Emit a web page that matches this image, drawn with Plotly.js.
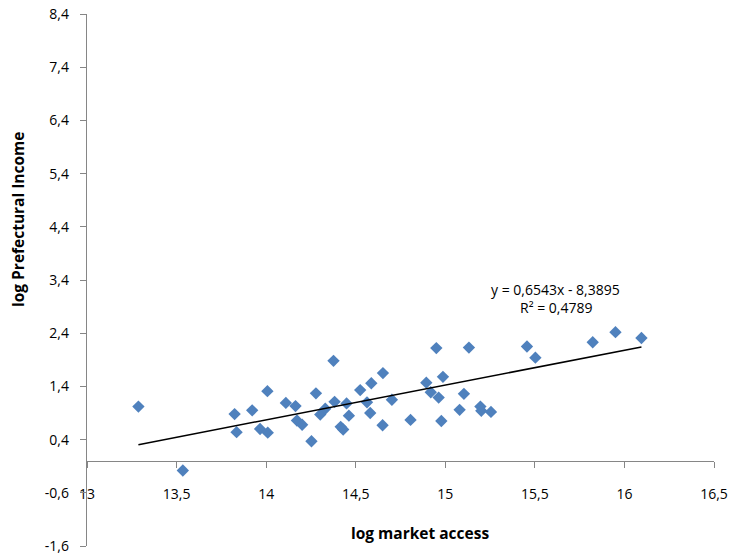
<!DOCTYPE html>
<html>
<head>
<meta charset="utf-8">
<script src="https://cdn.plot.ly/plotly-3.0.1.min.js"></script>
<style>html,body{margin:0;padding:0;background:#fff;}#chart{width:740px;height:559px;}</style>
</head>
<body>
<div id="chart"></div>
<script>
// log market access (x) and log prefectural income (y)
const marketAccess = [13.287, 13.535, 13.824, 13.835, 13.922, 13.966, 14.007, 14.009, 14.110, 14.164,
  14.172, 14.201, 14.253, 14.278, 14.302, 14.330, 14.376, 14.382, 14.416, 14.430,
  14.449, 14.462, 14.525, 14.563, 14.581, 14.587, 14.650, 14.652, 14.702, 14.806,
  14.894, 14.919, 14.950, 14.963, 14.987, 14.978, 15.080, 15.104, 15.132, 15.196,
  15.201, 15.255, 15.456, 15.503, 15.823, 15.950, 16.095];
const prefIncome = [1.02, -0.18, 0.88, 0.54, 0.95, 0.60, 1.31, 0.53, 1.09, 1.03,
  0.76, 0.68, 0.37, 1.27, 0.87, 0.98, 1.88, 1.11, 0.64, 0.59,
  1.08, 0.85, 1.33, 1.10, 0.90, 1.46, 0.67, 1.65, 1.15, 0.77,
  1.47, 1.29, 2.12, 1.19, 1.58, 0.75, 0.96, 1.26, 2.13, 1.02,
  0.94, 0.92, 2.15, 1.94, 2.23, 2.42, 2.31];

// linear trendline as printed on the chart
const trendSlope = 0.6543;
const trendIntercept = -8.3895;
const trendLabel = "y = 0,6543x - 8,3895";
const r2Label = "R² = 0,4789";

// axis ticks
const xTickVals = [13, 13.5, 14, 14.5, 15, 15.5, 16, 16.5];
const xTickText = ["13", "13,5", "14", "14,5", "15", "15,5", "16", "16,5"];
const yTickVals = [-1.6, -0.6, 0.4, 1.4, 2.4, 3.4, 4.4, 5.4, 6.4, 7.4, 8.4];
const yTickText = ["-1,6", "-0,6", "0,4", "1,4", "2,4", "3,4", "4,4", "5,4", "6,4", "7,4", "8,4"];

const xTitle = "log market access";
const yTitle = "log Prefectural Income";

const xMin = Math.min(...marketAccess);
const xMax = Math.max(...marketAccess);
const trendX = [xMin, xMax];
const trendY = trendX.map(v => trendSlope * v + trendIntercept);

const FONT = "Open Sans, sans-serif";
const AXIS_GREY = "#868686";

const traces = [
  {
    type: "scatter", mode: "markers",
    x: marketAccess, y: prefIncome,
    marker: {symbol: "diamond", size: 9.5, color: "#4F81BD", line: {width: 0}},
    hoverinfo: "x+y", showlegend: false
  },
  {
    type: "scatter", mode: "lines",
    x: trendX, y: trendY,
    line: {color: "#000000", width: 1.5},
    hoverinfo: "skip", showlegend: false
  }
];

const layout = {
  width: 740, height: 559,
  margin: {l: 87, r: 26, t: 14, b: 13, pad: 0},
  paper_bgcolor: "#ffffff", plot_bgcolor: "#ffffff",
  font: {family: FONT, size: 13.5, color: "#000000"},
  showlegend: false,
  xaxis: {
    range: [13, 16.5],
    anchor: "free", position: 0.16,
    tickmode: "array", tickvals: xTickVals, ticktext: xTickText,
    ticks: "outside", ticklen: 6, tickcolor: AXIS_GREY, tickwidth: 1,
    ticklabelstandoff: 14,
    showline: true, linecolor: AXIS_GREY, linewidth: 1.2,
    showgrid: false, zeroline: false,
    tickfont: {family: FONT, size: 14, color: "#000000"}
  },
  yaxis: {
    range: [-1.6, 8.4], domain: [0, 1],
    tickmode: "array", tickvals: yTickVals, ticktext: yTickText,
    ticks: "outside", ticklen: 6, tickcolor: AXIS_GREY, tickwidth: 1,
    ticklabelstandoff: 8,
    showline: true, linecolor: AXIS_GREY, linewidth: 1.2,
    showgrid: false, zeroline: false,
    tickfont: {family: FONT, size: 14, color: "#000000"}
  },
  annotations: [
    {text: "<b>" + xTitle + "</b>", xref: "paper", yref: "paper",
     x: (420 - 87) / 627, y: (546 - 533) / 532, xanchor: "center", yanchor: "middle",
     showarrow: false, font: {family: FONT, size: 15.5, color: "#000000"}},
    {text: "<b>" + yTitle + "</b>", xref: "paper", yref: "paper", textangle: -90,
     x: (18 - 87) / 627, y: (546 - 219) / 532, xanchor: "center", yanchor: "middle",
     showarrow: false, font: {family: FONT, size: 15.5, color: "#000000"}},
    {text: trendLabel, xref: "paper", yref: "paper",
     x: (555 - 87) / 627, y: (546 - 289) / 532, xanchor: "center", yanchor: "middle",
     showarrow: false, font: {family: FONT, size: 14, color: "#000000"}},
    {text: r2Label, xref: "paper", yref: "paper",
     x: (556 - 87) / 627, y: (546 - 308) / 532, xanchor: "center", yanchor: "middle",
     showarrow: false, font: {family: FONT, size: 14, color: "#000000"}}
  ]
};

Plotly.newPlot("chart", traces, layout, {displayModeBar: false, staticPlot: true});
</script>
</body>
</html>
